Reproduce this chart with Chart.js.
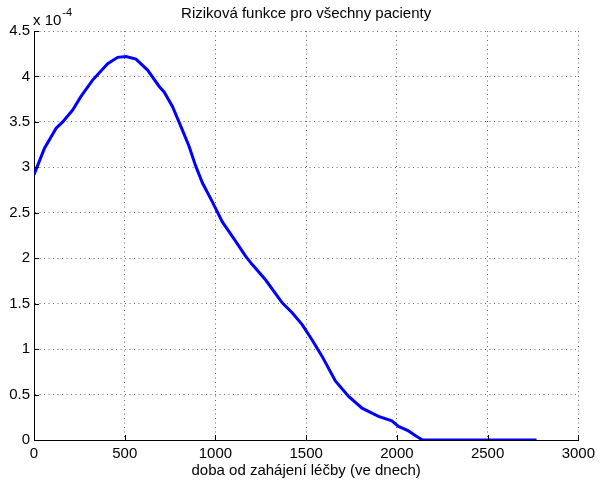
<!DOCTYPE html>
<html>
<head>
<meta charset="utf-8">
<script src="https://cdn.jsdelivr.net/npm/chart.js@4"></script>
<style>
  html, body { margin: 0; padding: 0; background: #fff; }
  #wrap { width: 600px; height: 480px; }
</style>
</head>
<body>
<div id="wrap"><canvas id="graf" width="600" height="480"></canvas></div>
<script>
// doba od zahájení léčby (dny) a riziko (v jednotkách 10^-4)
const dny = [0, 58, 122, 158, 213, 259, 323, 406, 461, 507, 562, 626, 690, 717, 763, 818, 855, 892,
  928, 983, 1038, 1093, 1167, 1203, 1277, 1368, 1423, 1478, 1533, 1588, 1661, 1734, 1808, 1899,
  1972, 2009, 2064, 2101, 2141, 2770];
const riziko = [2.92, 3.21, 3.43, 3.50, 3.63, 3.78, 3.96, 4.14, 4.21, 4.22, 4.19, 4.07, 3.89, 3.83,
  3.67, 3.41, 3.23, 3.01, 2.83, 2.62, 2.40, 2.24, 2.02, 1.93, 1.76, 1.51, 1.40, 1.27, 1.10, 0.92,
  0.65, 0.48, 0.35, 0.26, 0.21, 0.15, 0.10, 0.05, 0, 0];
const xTicks = [0, 500, 1000, 1500, 2000, 2500, 3000];
const yTicks = [0, 0.5, 1, 1.5, 2, 2.5, 3, 3.5, 4, 4.5];
const exponent = '-4';

const FONT = 'Liberation Sans, Arial, Helvetica, sans-serif';

// tiky dovnitř grafu + popisek "x 10^-4" (jako v MATLABu)
const matlabPlugin = {
  id: 'matlab',
  afterDraw(chart) {
    const { ctx, chartArea, scales } = chart;
    ctx.save();
    ctx.strokeStyle = '#000';
    ctx.lineWidth = 1;
    ctx.beginPath();
    xTicks.forEach(v => {
      const x = Math.round(scales.x.getPixelForValue(v)) + 0.5;
      ctx.moveTo(x, chartArea.bottom);
      ctx.lineTo(x, chartArea.bottom - 5);
    });
    yTicks.forEach(v => {
      const y = Math.round(scales.y.getPixelForValue(v)) + 0.5;
      ctx.moveTo(chartArea.left, y);
      ctx.lineTo(chartArea.left + 5, y);
    });
    ctx.stroke();

    ctx.fillStyle = '#000';
    ctx.textBaseline = 'alphabetic';
    ctx.textAlign = 'left';
    ctx.font = '15px ' + FONT;
    const base = 'x 10';
    ctx.fillText(base, 33, 25);
    const w = ctx.measureText(base).width;
    ctx.font = '11px ' + FONT;
    ctx.fillText(exponent, 33 + w + 1, 16);
    ctx.restore();
  }
};

new Chart(document.getElementById('graf').getContext('2d'), {
  type: 'line',
  data: {
    datasets: [{
      data: dny.map((d, i) => ({ x: d, y: riziko[i] })),
      borderColor: '#0000ff',
      borderWidth: 3,
      pointRadius: 0,
      tension: 0,
      fill: false
    }]
  },
  options: {
    responsive: false,
    animation: false,
    devicePixelRatio: 1,
    layout: { padding: { left: 0, right: 18, top: 0, bottom: 0 } },
    plugins: {
      legend: { display: false },
      tooltip: { enabled: false },
      title: {
        display: true,
        fullSize: false,
        text: 'Riziková funkce pro všechny pacienty',
        color: '#000',
        font: { family: FONT, size: 15, weight: 'normal' },
        padding: { top: 5, bottom: 8 }
      }
    },
    scales: {
      x: {
        type: 'linear',
        min: 0,
        max: 3000,
        afterFit: s => { s.height = 40; },
        afterBuildTicks: s => { s.ticks = xTicks.map(v => ({ value: v })); },
        ticks: {
          color: '#000',
          padding: 5,
          maxRotation: 0,
          font: { family: FONT, size: 15 },
          callback: v => String(v)
        },
        grid: { color: 'rgba(0,0,0,0.6)', lineWidth: 1, drawTicks: false },
        border: { display: true, color: '#000', width: 1, dash: [1, 3.5] },
        title: {
          display: true,
          text: 'doba od zahájení léčby (ve dnech)',
          color: '#000',
          font: { family: FONT, size: 15 },
          padding: { top: 0, bottom: 0 }
        }
      },
      y: {
        type: 'linear',
        min: 0,
        max: 4.5,
        afterFit: s => { s.width = 34; },
        afterBuildTicks: s => { s.ticks = yTicks.map(v => ({ value: v })); },
        ticks: {
          color: '#000',
          padding: 4,
          font: { family: FONT, size: 15 },
          callback: v => String(v)
        },
        grid: { color: 'rgba(0,0,0,0.6)', lineWidth: 1, drawTicks: false },
        border: { display: true, color: '#000', width: 1, dash: [1, 3.5] }
      }
    }
  },
  plugins: [matlabPlugin]
});
</script>
</body>
</html>
